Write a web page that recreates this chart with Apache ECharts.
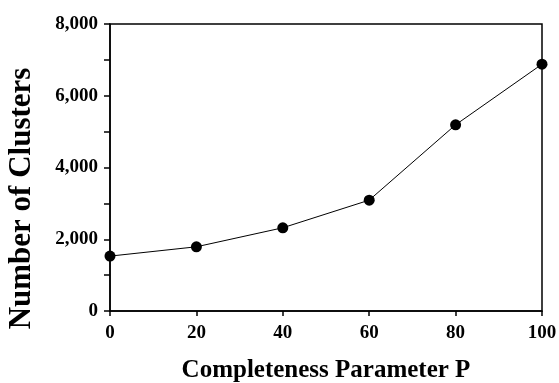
<!DOCTYPE html>
<html>
<head>
<meta charset="utf-8">
<script src="https://cdn.jsdelivr.net/npm/echarts@6/dist/echarts.min.js"></script>
<style>
  html, body { margin: 0; padding: 0; background: #fff; }
  #chart { width: 559px; height: 383px; }
</style>
</head>
<body>
<div id="chart"></div>
<script>
// values
const completeness = [0, 20, 40, 60, 80, 100]
const clusters = [1530, 1790, 2320, 3090, 5190, 6880]

const font = '"Liberation Serif", "Times New Roman", serif'
const chart = echarts.init(document.getElementById('chart'))

chart.setOption({
  animation: false,
  grid: {
    left: 110,
    right: 17,
    top: 24,
    bottom: 72,
    outerBoundsMode: 'none',
    show: true,
    borderColor: '#000',
    borderWidth: 1.5
  },
  xAxis: {
    type: 'value',
    min: 0,
    max: 100,
    interval: 20,
    name: 'Completeness Parameter P',
    nameLocation: 'middle',
    nameGap: 47,
    nameTextStyle: { fontFamily: font, fontWeight: 'bold', fontSize: 25, color: '#000' },
    axisLine: { lineStyle: { color: '#000', width: 1.5 } },
    axisTick: { show: true, length: 5, lineStyle: { color: '#000', width: 1.5 } },
    axisLabel: { fontFamily: font, fontWeight: 'bold', fontSize: 19, color: '#000', margin: 13 },
    splitLine: { show: false }
  },
  yAxis: {
    type: 'value',
    min: 0,
    max: 8000,
    interval: 1000,
    name: 'Number of Clusters',
    nameLocation: 'middle',
    nameGap: 73,
    nameTextStyle: {
      fontFamily: font, fontWeight: 'bold', fontSize: 31, color: '#000',
      padding: [0, 62, 0, 0]
    },
    axisLine: { show: true, lineStyle: { color: '#000', width: 1.5 } },
    axisTick: { show: true, length: 6, lineStyle: { color: '#000', width: 1.5 } },
    axisLabel: {
      fontFamily: font, fontWeight: 'bold', fontSize: 19, color: '#000', margin: 12,
      formatter: v => (v % 2000 === 0 ? v.toLocaleString('en-US') : '')
    },
    splitLine: { show: false }
  },
  series: [
    {
      type: 'line',
      data: completeness.map((p, i) => [p, clusters[i]]),
      symbol: 'circle',
      symbolSize: 11,
      itemStyle: { color: '#000' },
      lineStyle: { color: '#000', width: 1 },
      clip: false
    }
  ]
})
</script>
</body>
</html>
